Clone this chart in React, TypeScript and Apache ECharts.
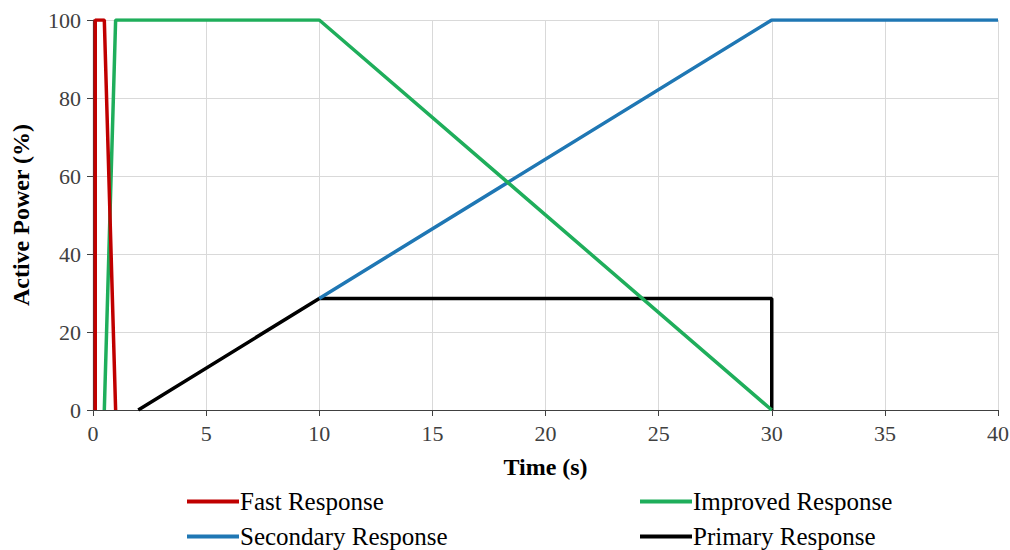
import React, { useEffect, useRef } from "react";
import * as echarts from "echarts";

const fastResponse: [number, number][] = [[0.1, 0], [0.1, 100], [0.5, 100], [1.0, 0]];
const improvedResponse: [number, number][] = [[0.5, 0], [1.0, 100], [10, 100], [30, 0]];
const secondaryResponse: [number, number][] = [[10, 28.6], [30, 100], [40, 100]];
const primaryResponse: [number, number][] = [[2, 0], [10, 28.6], [30, 28.6], [30, 0]];

const seriesNames = ["Fast Response", "Improved Response", "Secondary Response", "Primary Response"];
const seriesColors = ["#c00000", "#1fae5b", "#1f77b4", "#000000"];
const seriesData = [fastResponse, improvedResponse, secondaryResponse, primaryResponse];

const FONT = "'Liberation Serif', 'Times New Roman', serif";

export default function App() {
  const ref = useRef<HTMLDivElement>(null);
  useEffect(() => {
    if (!ref.current) return;
    const chart = echarts.init(ref.current, undefined, { renderer: "svg" });
    const legendPos = [
      { left: 187, top: 489 },
      { left: 640, top: 489 },
      { left: 187, top: 524 },
      { left: 640, top: 524 },
    ];
    chart.setOption({
      animation: false,
      backgroundColor: "#ffffff",
      grid: { left: 93, right: 12, top: 20, bottom: 140, containLabel: false, outerBoundsMode: "none" },
      xAxis: {
        type: "value",
        min: 0,
        max: 40,
        interval: 5,
        name: "Time (s)",
        nameLocation: "middle",
        nameGap: 45,
        nameTextStyle: { fontFamily: FONT, fontSize: 24, fontWeight: "bold", color: "#000" },
        axisLine: { show: true, lineStyle: { color: "#404040", width: 1.2 } },
        axisTick: { show: true, length: 6, lineStyle: { color: "#404040" } },
        axisLabel: { fontFamily: FONT, fontSize: 22, color: "#404040", margin: 12 },
        splitLine: { show: true, lineStyle: { color: "#d9d9d9", width: 1 } },
      },
      yAxis: {
        type: "value",
        min: 0,
        max: 100,
        interval: 20,
        name: "Active Power (%)",
        nameLocation: "middle",
        nameGap: 60,
        nameTextStyle: { fontFamily: FONT, fontSize: 24, fontWeight: "bold", color: "#000" },
        axisLine: { show: true, lineStyle: { color: "#404040", width: 1.2 } },
        axisTick: { show: true, length: 6, lineStyle: { color: "#404040" } },
        axisLabel: { fontFamily: FONT, fontSize: 22, color: "#404040", margin: 12 },
        splitLine: { show: true, lineStyle: { color: "#d9d9d9", width: 1 } },
      },
      legend: seriesNames.map((n, i) => ({
        data: [n],
        left: legendPos[i].left,
        top: legendPos[i].top,
        icon: "rect",
        itemWidth: 52,
        itemHeight: 4,
        itemGap: 0,
        padding: 0,
        textStyle: { fontFamily: FONT, fontSize: 25, lineHeight: 24, color: "#000", padding: [0, 0, 0, -4] },
      })),
      series: seriesNames.map((n, i) => ({
        name: n,
        type: "line",
        data: seriesData[i],
        showSymbol: false,
        symbol: "none",
        color: seriesColors[i],
        lineStyle: { color: seriesColors[i], width: 3.5 },
        z: 10 - i,
      })),
    });
    return () => chart.dispose();
  }, []);
  return <div ref={ref} style={{ width: 1010, height: 550, position: "absolute", left: 0, top: 0 }} />;
}
